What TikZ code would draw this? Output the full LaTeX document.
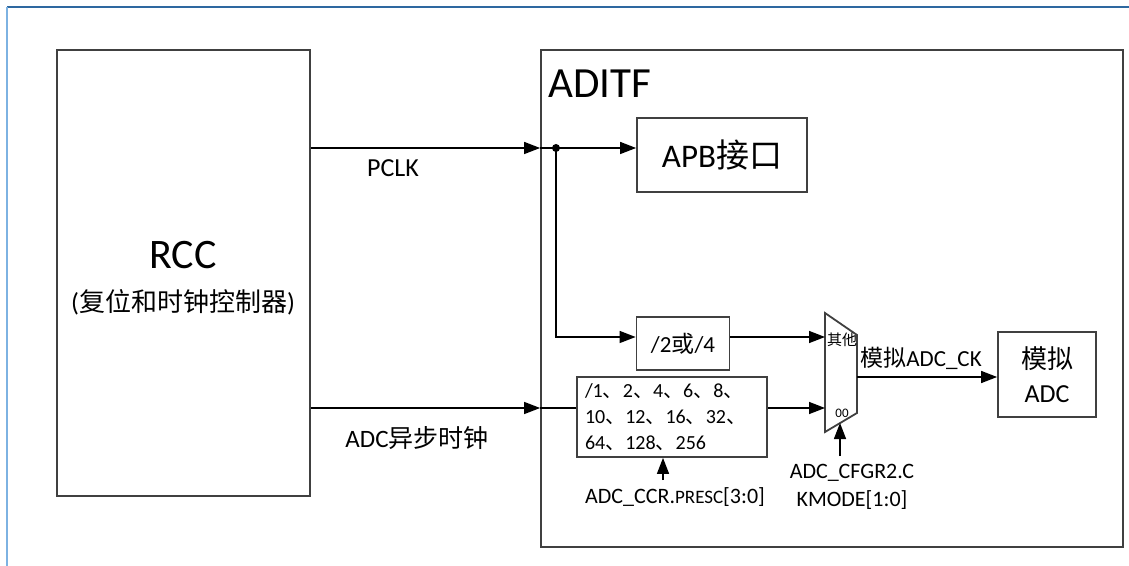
\documentclass[tikz,border=0pt]{standalone}
\usepackage{fontspec}
\setmainfont{Carlito}
\newfontfamily\cjk{Noto Sans CJK SC}
\usetikzlibrary{arrows.meta, positioning, calc}
\definecolor{frametop}{RGB}{46,104,160}
\definecolor{frameleft}{RGB}{125,178,226}
\newcommand\setfs[2]{\fontsize{#1}{#2}\selectfont}

\begin{document}
\begin{tikzpicture}[x=0.5pt, y=-0.5pt, >={Triangle[length=8pt, width=6pt]},
  blk/.style={draw=black!75, line width=0.9pt, inner sep=0pt},
  sig/.style={->, line width=0.7pt},
  lbl/.style={inner sep=0pt}]
  \useasboundingbox (0,0) rectangle (1129,566);
  % Frame
  \draw[frametop, line width=0.8pt] (7,7) -- (1129,7);
  \draw[frameleft, line width=0.8pt] (7,7) -- (7,566);
  % RCC block
  \node[blk, minimum width=126.5pt, minimum height=223pt] (rcc) at (183.5,273) {};
  \node[lbl, font=\setfs{21}{25}] (rcctitle) at (183,255) {RCC};
  \node[lbl, font=\setfs{13}{16}] (rccsub) at (183,302) {({\cjk 复位和时钟控制器})};
  % ADITF block
  \node[blk, minimum width=291pt, minimum height=248.5pt] (aditf) at (832,298.5) {};
  \node[lbl, anchor=west, font=\setfs{21.5}{25}] (aditftitle) at (548,83.5) {ADITF};
  \node[blk, minimum width=85pt, minimum height=37pt, font=\setfs{16.5}{20}] (apb) at (722,155) {APB{\cjk 接口}};
  \node[blk, minimum width=46.5pt, minimum height=26.5pt, font=\setfs{11.5}{13}] (div) at (683,343.5) {/2{\cjk 或}/4};
  \node[blk, minimum width=95pt, minimum height=40pt, text width=87pt, inner xsep=4pt,
    align=left, font=\setfs{10}{13}] (presc) at (672,417)
    {/1{\cjk 、}2{\cjk 、}4{\cjk 、}6{\cjk 、}8{\cjk 、}\\
     10{\cjk 、}12{\cjk 、}16{\cjk 、}32{\cjk 、}\\
     64{\cjk 、}128{\cjk 、}256};
  \node[blk, minimum width=49pt, minimum height=42.5pt, align=center, font=\setfs{13}{17}] (adc) at (1047,374.5) {{\cjk 模拟}\\ADC};
  % Clock multiplexer
  \draw[draw=black!75, line width=0.9pt] (825,313) -- (857,335) -- (857,413) -- (825,432) -- cycle;
  \coordinate (muxin1) at (825,337);
  \coordinate (muxin2) at (825,408);
  \coordinate (muxout) at (857,377);
  \coordinate (muxsel) at (840,423);
  \node[lbl, font=\cjk\setfs{7.5}{9}] (muxother) at (842,340) {其他};
  \node[lbl, font=\setfs{6.5}{8}] (muxzero) at (842,413) {00};
  % Clock paths
  \coordinate (dot) at (556,148);
  \coordinate (row1) at (0,337);
  \coordinate (row2) at (0,408);
  \draw[sig] (rcc.east |- dot) -- (aditf.west |- dot);
  \draw[sig] (aditf.west |- dot) -- (apb.west |- dot);
  \fill (dot) circle (2pt);
  \draw[sig] (dot) |- (div.west |- row1);
  \draw[sig] (div.east |- row1) -- (muxin1);
  \draw[sig] (rcc.east |- row2) -- (aditf.west |- row2);
  \draw[line width=0.7pt] (aditf.west |- row2) -- (presc.west |- row2);
  \draw[sig] (presc.east |- row2) -- (muxin2);
  \draw[sig] (muxout) -- (adc.west |- muxout);
  \node[lbl, font=\setfs{13}{15}] (pclk) at (393,168) {PCLK};
  \node[lbl, font=\setfs{12.5}{15}] (asyncclk) at (417,438) {ADC{\cjk 异步时钟}};
  \node[lbl, font=\setfs{11.5}{14}] (adcck) at (921,358) {{\cjk 模拟}ADC\_CK};
  % Control registers
  \coordinate (selfoot) at (840,456);
  \coordinate (prescfoot) at (663,480);
  \draw[sig] (selfoot) -- (muxsel);
  \draw[sig] (prescfoot) -- (presc.south -| prescfoot);
  \node[lbl, align=center, font=\setfs{11}{14}] (ckmode) at (852,487) {ADC\_CFGR2.C\\KMODE[1:0]};
  \node[lbl, font=\setfs{11}{14}] (prescreg) at (675,497) {ADC\_CCR.{\setfs{9.5}{11}PRESC}[3:0]};
\end{tikzpicture}
\end{document}
